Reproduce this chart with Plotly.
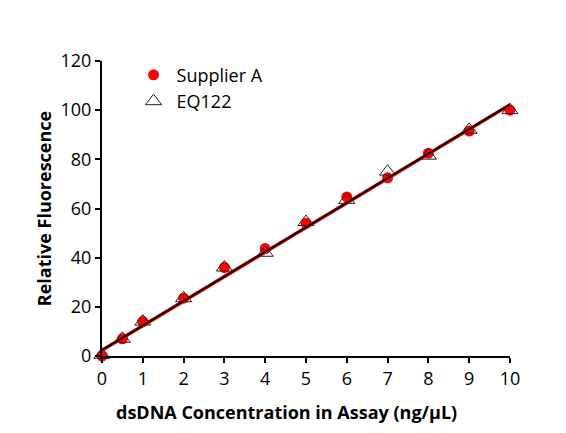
import plotly.graph_objects as go

# Concentration (ng/uL) and relative fluorescence readings
conc = [0, 0.5, 1, 2, 3, 4, 5, 6, 7, 8, 9, 10]
supplier_a = [0, 7, 14, 23.5, 36, 43.7, 54, 64.7, 72.5, 82.5, 91.5, 100]
eq122 = [0.5, 7, 14, 23.5, 36, 42, 54.5, 63.5, 75, 81.5, 92, 100]

# Linear fit end points
fit_x = [0, 10]
fit_a = [2.3, 102.2]
fit_eq = [2.4, 102.3]

FONT = "Open Sans, Noto Sans, sans-serif"

fig = go.Figure()
fig.add_trace(go.Scatter(
    x=conc, y=supplier_a, mode="markers", name="Supplier A",
    marker=dict(symbol="circle", size=11, color="#ff0000"),
    cliponaxis=False,
))
fig.add_trace(go.Scatter(
    x=conc, y=eq122, mode="markers", name="EQ122",
    marker=dict(symbol="triangle-up-open", size=14, color="#222222",
                line=dict(width=1)),
    cliponaxis=False,
))
fig.add_trace(go.Scatter(
    x=fit_x, y=fit_a, mode="lines", showlegend=False,
    line=dict(color="#ff0000", width=3.5),
))
fig.add_trace(go.Scatter(
    x=fit_x, y=fit_eq, mode="lines", showlegend=False,
    line=dict(color="black", width=2),
))

axis_common = dict(
    showgrid=False, zeroline=False, showline=True, linecolor="black",
    linewidth=2, ticks="outside", ticklen=5, tickwidth=2, tickcolor="black",
    tickfont=dict(size=18, color="black", family=FONT),
)

fig.update_layout(
    width=566, height=433,
    margin=dict(l=94, r=64, t=53, b=85),
    plot_bgcolor="white", paper_bgcolor="white",
    font=dict(family=FONT, color="black"),
    xaxis=dict(range=[0, 10], dtick=1, **axis_common),
    yaxis=dict(
        range=[0, 120], dtick=20,
        title=dict(text="<b>Relative Fluorescence</b>",
                   font=dict(size=18), standoff=4),
        **axis_common,
    ),
    legend=dict(
        x=0.07, y=1.015, xanchor="left", yanchor="top", tracegroupgap=0,
        itemwidth=36,
        bgcolor="rgba(0,0,0,0)", font=dict(size=18, family=FONT),
    ),
    annotations=[dict(
        text="<b>dsDNA Concentration in Assay (ng/μL)</b>",
        xref="paper", yref="paper", x=0.452, y=-0.19,
        xanchor="center", yanchor="middle", showarrow=False,
        font=dict(size=18, family=FONT, color="black"),
    )],
)

fig.write_html("out.html")
